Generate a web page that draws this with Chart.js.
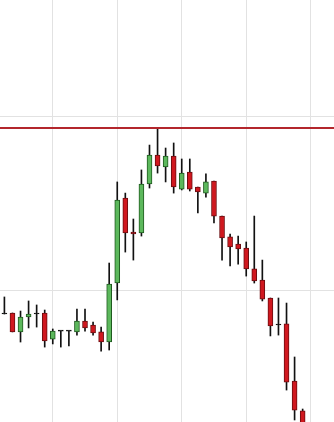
<!DOCTYPE html>
<html>
<head>
<meta charset="utf-8">
<script src="https://cdn.jsdelivr.net/npm/chart.js@4/dist/chart.umd.min.js"></script>
<style>
  html, body { margin: 0; padding: 0; background: #fff; }
  canvas { display: block; }
</style>
</head>
<body>
<canvas id="candles" width="334" height="422"></canvas>
<script>
// candle data, one entry per bar (left to right)
const opens  = [86.2, 86.8, 75.9, 84.5, 86.2, 86.8, 71.8, 76.4, 76.4, 75.9,
                82.2, 79.9, 75.9, 70.1, 104.0, 152.9, 133.3, 132.8, 160.9, 177.6,
                170.7, 177.0, 158.0, 167.8, 159.2, 155.7, 162.6, 142.5, 130.5, 126.4,
                124.1, 112.1, 105.7, 95.4, 79.9, 80.5, 47.7, 30.5];
const highs  = [96.0, 86.8, 87.9, 93.7, 91.4, 88.5, 77.6, 76.4, 76.4, 89.1,
                89.1, 81.6, 78.7, 115.5, 162.1, 155.7, 140.8, 169.0, 183.3, 193.1,
                181.6, 184.5, 175.3, 175.3, 159.2, 166.7, 162.6, 142.5, 132.2, 131.0,
                127.6, 142.5, 117.2, 95.4, 95.4, 92.5, 61.5, 31.6];
const lows   = [86.2, 75.9, 70.1, 78.2, 78.7, 67.2, 69.0, 67.2, 67.8, 74.1,
                76.4, 74.1, 64.9, 65.5, 94.3, 121.8, 117.2, 131.0, 158.6, 167.2,
                162.1, 155.7, 157.5, 156.9, 144.3, 153.4, 138.5, 117.2, 113.8, 114.9,
                108.0, 104.0, 93.7, 73.6, 74.1, 42.5, 25.3, 21.0];
const closes = [86.2, 75.9, 84.5, 86.2, 86.2, 70.7, 76.4, 76.4, 76.4, 82.2,
                78.2, 75.3, 70.1, 103.4, 151.7, 132.8, 132.2, 160.9, 177.6, 171.3,
                177.0, 159.2, 167.2, 158.0, 156.3, 162.1, 142.5, 129.9, 124.7, 123.6,
                112.1, 105.2, 94.8, 79.3, 79.9, 47.1, 31.0, 22.5];
const resistance = 193.1;
const gridX = [6, 14, 22, 30, 38];
const gridY = [100, 200];

const upFill = '#5cb85c', upEdge = '#1f5a1f';
const downFill = '#d0181f', downEdge = '#6b0d10';

function fillFor(i) {
    if (opens[i] === closes[i]) return '#111';
    return closes[i] > opens[i] ? upFill : downFill;
}
function edgeFor(i) {
    if (opens[i] === closes[i]) return '#111';
    return closes[i] > opens[i] ? upEdge : downEdge;
}

const idx = opens.map((_, i) => i);

var ctx = document.getElementById('candles').getContext('2d');

var chart = new Chart(ctx, {
    type: 'bar',
    data: {
        datasets: [{
            label: 'wick',
            data: idx.map(i => ({ x: i, y: [lows[i], highs[i]] })),
            backgroundColor: '#111',
            barThickness: 1,
            minBarLength: 1,
            grouped: false,
            order: 2
        }, {
            label: 'body',
            data: idx.map(i => ({ x: i, y: [opens[i], closes[i]] })),
            backgroundColor: idx.map(fillFor),
            borderColor: idx.map(edgeFor),
            borderWidth: 1,
            borderSkipped: false,
            barThickness: 5,
            minBarLength: 1,
            grouped: false,
            order: 1
        }, {
            type: 'line',
            label: 'level',
            data: [{ x: -2, y: resistance }, { x: 45, y: resistance }],
            borderColor: '#b3262c',
            borderWidth: 2,
            pointRadius: 0,
            order: 0
        }]
    },
    options: {
        responsive: false,
        animation: false,
        layout: { padding: 0 },
        plugins: { legend: { display: false }, tooltip: { enabled: false } },
        scales: {
            x: {
                type: 'linear',
                min: -0.546,
                max: 40.89,
                offset: false,
                grid: { offset: false, color: '#e2e2e2', drawTicks: false },
                border: { display: false },
                ticks: { display: false },
                afterBuildTicks: s => { s.ticks = gridX.map(v => ({ value: v })); },
                afterFit: s => { s.height = 0; }
            },
            y: {
                min: 24.14,
                max: 266.67,
                grid: { color: '#e2e2e2', drawTicks: false },
                border: { display: false },
                ticks: { display: false },
                afterBuildTicks: s => { s.ticks = gridY.map(v => ({ value: v })); },
                afterFit: s => { s.width = 0; }
            }
        }
    }
});
</script>
</body>
</html>
